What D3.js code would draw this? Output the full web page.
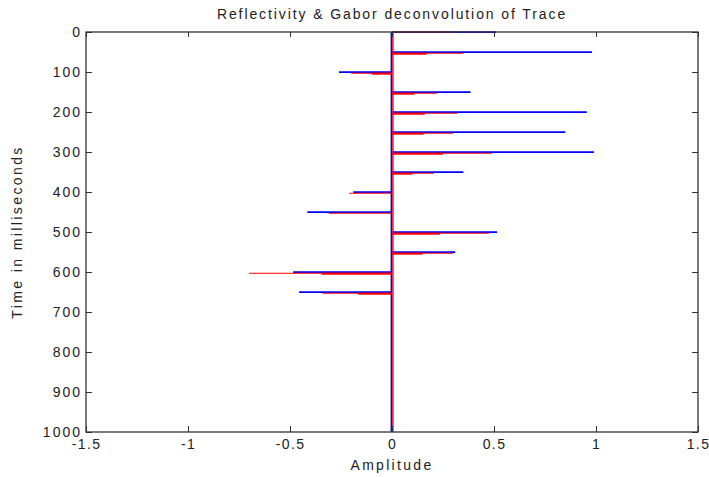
<!DOCTYPE html>
<html>
<head>
<meta charset="utf-8">
<script src="https://cdn.jsdelivr.net/npm/d3@7"></script>
<style>
  body { margin: 0; background: #fff; }
  svg text { font-family: "Liberation Sans", Arial, sans-serif; fill: #222; }
</style>
</head>
<body>
<svg width="709" height="477"></svg>
<script>
// event times (ms) of the reflectivity spikes
var times = [0, 50, 100, 150, 200, 250, 300, 350, 400, 450, 500, 550, 600, 650];
// reflectivity (blue)
var reflectivity = [0.51, 0.98, -0.26, 0.385, 0.955, 0.85, 0.99, 0.35, -0.19, -0.415, 0.515, 0.31, -0.485, -0.455];
// gabor deconvolution (red), main sample and neighbour sample
var gaborMain = [0.30, 0.35, -0.20, 0.22, 0.32, 0.30, 0.49, 0.205, -0.21, -0.31, 0.475, 0.30, -0.70, -0.34];
var gaborSide = [0, 0.17, -0.10, 0.11, 0.16, 0.155, 0.25, 0.10, 0, 0, 0.235, 0.15, -0.345, -0.165];

var xTicks = [-1.5, -1, -0.5, 0, 0.5, 1, 1.5];
var yTicks = [0, 100, 200, 300, 400, 500, 600, 700, 800, 900, 1000];

var margin = { top: 32, right: 11, bottom: 45, left: 86 };
var width = 709 - margin.left - margin.right;
var height = 477 - margin.top - margin.bottom;

var x = d3.scaleLinear().domain([-1.5, 1.5]).range([0, width]);
var y = d3.scaleLinear().domain([0, 1000]).range([0, height]);

var svg = d3.select('svg');
var graph = svg.append('g')
    .attr('transform', 'translate(' + margin.left + ',' + margin.top + ')');

var fmt = function (d) { return String(d); };

// traces first, the axes box is drawn over them like matlab does
var events = times.map(function (t, i) {
    return { t: t, r: reflectivity[i], g: gaborMain[i], s: gaborSide[i] };
});

var traces = graph.append('g');

traces.append('line')
    .attr('x1', x(0) - 0.6).attr('x2', x(0) - 0.6)
    .attr('y1', y(0)).attr('y2', y(1000))
    .attr('stroke', '#0000ff').attr('stroke-width', 1.6);

traces.selectAll('.refl')
    .data(events).enter().append('line')
    .attr('class', 'refl')
    .attr('x1', x(0)).attr('x2', function (d) { return x(d.r); })
    .attr('y1', function (d) { return y(d.t) + 0.2; })
    .attr('y2', function (d) { return y(d.t) + 0.2; })
    .attr('stroke', '#0000ff').attr('stroke-width', 1.8);

traces.selectAll('.gabor')
    .data(events).enter().append('line')
    .attr('class', 'gabor')
    .attr('x1', x(0)).attr('x2', function (d) { return x(d.g); })
    .attr('y1', function (d) { return d.t === 0 ? y(d.t) : y(d.t) + 1.3; })
    .attr('y2', function (d) { return d.t === 0 ? y(d.t) : y(d.t) + 1.3; })
    .attr('stroke', '#ff0000').attr('stroke-width', 1.1);

traces.selectAll('.gaborSide')
    .data(events).enter().append('line')
    .attr('class', 'gaborSide')
    .attr('x1', x(0)).attr('x2', function (d) { return x(d.s); })
    .attr('y1', function (d) { return y(d.t) + 1.7; })
    .attr('y2', function (d) { return y(d.t) + 1.7; })
    .attr('stroke', '#ff0000').attr('stroke-width', 2);

traces.append('line')
    .attr('x1', x(0) + 0.9).attr('x2', x(0) + 0.9)
    .attr('y1', y(0)).attr('y2', y(1000))
    .attr('stroke', '#ff0000').attr('stroke-width', 1.4);

// axes - matlab style ticks inside the box
var tickStyle = function (g) {
    g.select('.domain').remove();
    g.selectAll('.tick line').attr('stroke', '#333');
    g.selectAll('.tick text')
        .style('font-size', '14px')
        .style('letter-spacing', '2px')
        .attr('fill', '#222');
};

var xAxisG = graph.append('g')
    .attr('transform', 'translate(0,' + height + ')')
    .call(d3.axisBottom(x).tickValues(xTicks).tickFormat(fmt).tickSizeInner(-6).tickSizeOuter(0).tickPadding(7))
    .call(tickStyle);
xAxisG.selectAll('.tick text').style('letter-spacing', '1.4px');

graph.append('g')
    .call(d3.axisTop(x).tickValues(xTicks).tickFormat('').tickSizeInner(-5).tickSizeOuter(0))
    .call(tickStyle);

graph.append('g')
    .call(d3.axisLeft(y).tickValues(yTicks).tickFormat(fmt).tickSizeInner(-6).tickSizeOuter(0).tickPadding(4))
    .call(tickStyle);

graph.append('g')
    .attr('transform', 'translate(' + width + ',0)')
    .call(d3.axisRight(y).tickValues(yTicks).tickFormat('').tickSizeInner(-6).tickSizeOuter(0))
    .call(tickStyle);

graph.append('rect')
    .attr('width', width)
    .attr('height', height)
    .attr('fill', 'none')
    .attr('stroke', '#333')
    .attr('stroke-width', 1.3);

// labels
svg.append('text')
    .attr('x', margin.left + x(0))
    .attr('y', 19)
    .attr('text-anchor', 'middle')
    .style('font-size', '14px')
    .style('letter-spacing', '1.9px')
    .text('Reflectivity & Gabor deconvolution of Trace');

svg.append('text')
    .attr('x', margin.left + x(0))
    .attr('y', 470)
    .attr('text-anchor', 'middle')
    .style('font-size', '14px')
    .style('letter-spacing', '2.3px')
    .text('Amplitude');

svg.append('text')
    .attr('transform', 'translate(22,' + (margin.top + height / 2) + ') rotate(-90)')
    .attr('text-anchor', 'middle')
    .style('font-size', '14px')
    .style('letter-spacing', '2.4px')
    .text('Time in milliseconds');
</script>
</body>
</html>
